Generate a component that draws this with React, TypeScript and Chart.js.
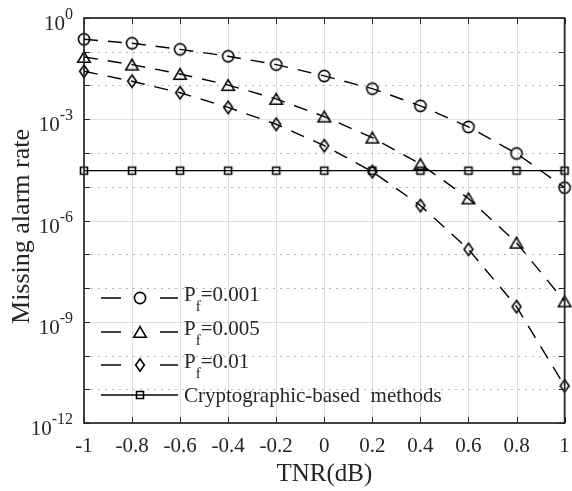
import React, { useEffect, useRef } from 'react';
import { Chart, registerables } from 'chart.js';

Chart.register(...registerables);

// ---- data ----
const tnrValues = [-1, -0.8, -0.6, -0.4, -0.2, 0, 0.2, 0.4, 0.6, 0.8, 1];
const pf001 = [0.234, 0.178, 0.118, 0.0734, 0.0417, 0.0192, 0.00805, 0.0025, 5.9e-4, 9.7e-5, 9.4e-6];
const pf005 = [0.07, 0.0415, 0.0219, 0.0103, 0.004, 0.0012, 2.85e-4, 4.7e-5, 4.5e-6, 2.2e-7, 4e-9];
const pf01 = [0.0264, 0.0134, 0.0061, 0.00224, 7.1e-4, 1.65e-4, 2.8e-5, 2.77e-6, 1.4e-7, 2.8e-9, 1.26e-11];
const cryptoMethod = [3e-5, 3e-5, 3e-5, 3e-5, 3e-5, 3e-5, 3e-5, 3e-5, 3e-5, 3e-5, 3e-5];
const seriesLabels = ['P_f=0.001', 'P_f=0.005', 'P_f=0.01', 'Cryptographic-based  methods'];
const seriesMarkers = ['circle', 'triangle', 'diamond', 'square'];
const seriesDashed = [true, true, true, false];
const yMajorExponents = [0, -3, -6, -9, -12];
const yDecadeExponents = [0, -1, -2, -3, -4, -5, -6, -7, -8, -9, -10, -11, -12];
const xTitle = 'TNR(dB)';
const yTitle = 'Missing alarm rate';

const FONT = "'Liberation Serif', 'Times New Roman', serif";
const INK = '#262626';

function makeMarker(kind: string): HTMLCanvasElement {
  const c = document.createElement('canvas');
  c.width = 20;
  c.height = 20;
  const g = c.getContext('2d')!;
  g.strokeStyle = '#000';
  g.lineWidth = 1.6;
  g.beginPath();
  if (kind === 'circle') {
    g.arc(10, 10, 5.6, 0, Math.PI * 2);
  } else if (kind === 'triangle') {
    g.moveTo(10, 4.6);
    g.lineTo(16.2, 15.2);
    g.lineTo(3.8, 15.2);
    g.closePath();
  } else if (kind === 'diamond') {
    g.moveTo(10, 3.8);
    g.lineTo(14.4, 10);
    g.lineTo(10, 16.2);
    g.lineTo(5.6, 10);
    g.closePath();
  } else {
    g.rect(6.5, 6.5, 7, 7);
  }
  g.stroke();
  return c;
}

export default function App() {
  const ref = useRef<HTMLCanvasElement | null>(null);

  useEffect(() => {
    if (!ref.current) return;
    const markers = seriesMarkers.map(makeMarker);
    const seriesValues = [pf001, pf005, pf01, cryptoMethod];

    const axesPlugin = {
      id: 'matlabAxes',
      beforeDatasetsDraw(chart: any) {
        const { ctx, chartArea: a, scales } = chart;
        const x = scales.x;
        const y = scales.y;
        ctx.save();
        ctx.lineWidth = 1;
        ctx.strokeStyle = '#dedede';
        for (const v of tnrValues) {
          const px = Math.round(x.getPixelForValue(v)) + 0.5;
          ctx.beginPath();
          ctx.moveTo(px, a.top);
          ctx.lineTo(px, a.bottom);
          ctx.stroke();
        }
        for (const e of yDecadeExponents) {
          const py = Math.round(y.getPixelForValue(Math.pow(10, e))) + 0.5;
          ctx.beginPath();
          if (e % 3 === 0) {
            ctx.setLineDash([]);
            ctx.strokeStyle = '#dedede';
          } else {
            ctx.setLineDash([2, 5]);
            ctx.strokeStyle = '#b5b5b5';
          }
          ctx.moveTo(a.left, py);
          ctx.lineTo(a.right, py);
          ctx.stroke();
        }
        ctx.restore();
      },
      afterDatasetsDraw(chart: any) {
        const { ctx, chartArea: a, scales } = chart;
        const x = scales.x;
        const y = scales.y;
        ctx.save();
        // tick marks
        ctx.strokeStyle = INK;
        ctx.lineWidth = 1;
        const tl = 6;
        for (const v of tnrValues) {
          const px = Math.round(x.getPixelForValue(v)) + 0.5;
          ctx.beginPath();
          ctx.moveTo(px, a.bottom);
          ctx.lineTo(px, a.bottom - tl);
          ctx.moveTo(px, a.top);
          ctx.lineTo(px, a.top + tl);
          ctx.stroke();
        }
        for (const e of yDecadeExponents) {
          const py = Math.round(y.getPixelForValue(Math.pow(10, e))) + 0.5;
          ctx.beginPath();
          ctx.moveTo(a.left, py);
          ctx.lineTo(a.left + tl, py);
          ctx.moveTo(a.right, py);
          ctx.lineTo(a.right - tl, py);
          ctx.stroke();
        }
        // box
        ctx.lineWidth = 1.7;
        ctx.strokeRect(a.left, a.top, a.right - a.left, a.bottom - a.top);

        // y tick labels with superscripts
        ctx.fillStyle = INK;
        ctx.textAlign = 'right';
        ctx.textBaseline = 'alphabetic';
        const labelRight = a.left - 11;
        for (const e of yMajorExponents) {
          const py = y.getPixelForValue(Math.pow(10, e));
          const expStr = e === 0 ? '0' : '-' + String(-e);
          ctx.font = `16px ${FONT}`;
          const ew = ctx.measureText(expStr).width;
          ctx.fillText(expStr, labelRight, py + 1);
          ctx.font = `21px ${FONT}`;
          ctx.fillText('10', labelRight - ew, py + 12);
        }

        // y axis title
        ctx.save();
        ctx.translate(22, (a.top + a.bottom) / 2 + 6);
        ctx.rotate(-Math.PI / 2);
        ctx.textAlign = 'center';
        ctx.textBaseline = 'middle';
        ctx.font = `26px ${FONT}`;
        ctx.fillText(yTitle, 0, 0);
        ctx.restore();

        // legend
        const rowY = [298, 332, 365, 395];
        const baseOff = [2.5, 3, 3, 7];
        ctx.textAlign = 'left';
        seriesLabels.forEach((label, i) => {
          const ly = rowY[i];
          ctx.strokeStyle = '#000';
          ctx.lineWidth = 1.4;
          ctx.beginPath();
          if (seriesDashed[i]) {
            ctx.moveTo(101, ly);
            ctx.lineTo(121, ly);
            ctx.moveTo(160, ly);
            ctx.lineTo(178, ly);
          } else {
            ctx.moveTo(101, ly);
            ctx.lineTo(178, ly);
          }
          ctx.stroke();
          ctx.drawImage(markers[i], 140 - 10, ly - 10);
          let tx = 184;
          const base = ly + baseOff[i];
          const m = label.match(/^(.*?)_(.)(.*)$/);
          ctx.fillStyle = INK;
          if (m) {
            ctx.font = `21px ${FONT}`;
            ctx.fillText(m[1], tx, base);
            tx += ctx.measureText(m[1]).width;
            ctx.font = `15px ${FONT}`;
            ctx.fillText(m[2], tx, base + 10);
            tx += ctx.measureText(m[2]).width;
            ctx.font = `21px ${FONT}`;
            ctx.fillText(m[3], tx, base);
          } else {
            ctx.font = `21px ${FONT}`;
            ctx.fillText(label, tx, base);
          }
        });
        ctx.restore();
      },
    };

    const chart = new Chart(ref.current, {
      type: 'line',
      data: {
        datasets: seriesValues.map((vals, i) => ({
          label: seriesLabels[i],
          data: tnrValues.map((t, k) => ({ x: t, y: vals[k] })),
          borderColor: '#000',
          backgroundColor: 'transparent',
          borderWidth: 1.4,
          borderDash: seriesDashed[i] ? [14, 10] : [],
          pointStyle: markers[i],
          pointRadius: 6,
          pointHoverRadius: 6,
          tension: 0,
          fill: false,
          clip: false,
        })),
      },
      options: {
        responsive: false,
        animation: false,
        events: [],
        layout: { padding: { top: 18, right: 5, left: 0, bottom: 0 } },
        plugins: {
          legend: { display: false },
          tooltip: { enabled: false },
        },
        scales: {
          x: {
            type: 'linear',
            min: -1,
            max: 1,
            afterFit: (s: any) => {
              s.height = 68;
            },
            ticks: {
              stepSize: 0.2,
              padding: 0,
              color: INK,
              font: { family: FONT, size: 21, lineHeight: 2.25 },
              maxRotation: 0,
              callback: (v: any) => String(Math.round(Number(v) * 10) / 10),
            },
            grid: { display: false, drawTicks: false },
            border: { display: false },
            title: {
              display: true,
              text: xTitle,
              color: INK,
              font: { family: FONT, size: 25 },
              padding: { top: 0, bottom: 2 },
            },
          },
          y: {
            type: 'logarithmic',
            min: 1e-12,
            max: 1,
            afterFit: (s: any) => {
              s.width = 84;
            },
            ticks: { display: false },
            grid: { display: false, drawTicks: false },
            border: { display: false },
            title: { display: false },
          },
        },
      },
      plugins: [axesPlugin],
    } as any);
    return () => chart.destroy();
  }, []);

  return (
    <div style={{ position: 'absolute', left: 0, top: 0, width: 572, height: 491, background: '#fff' }}>
      <canvas ref={ref} width={572} height={491} style={{ display: 'block' }} />
    </div>
  );
}
